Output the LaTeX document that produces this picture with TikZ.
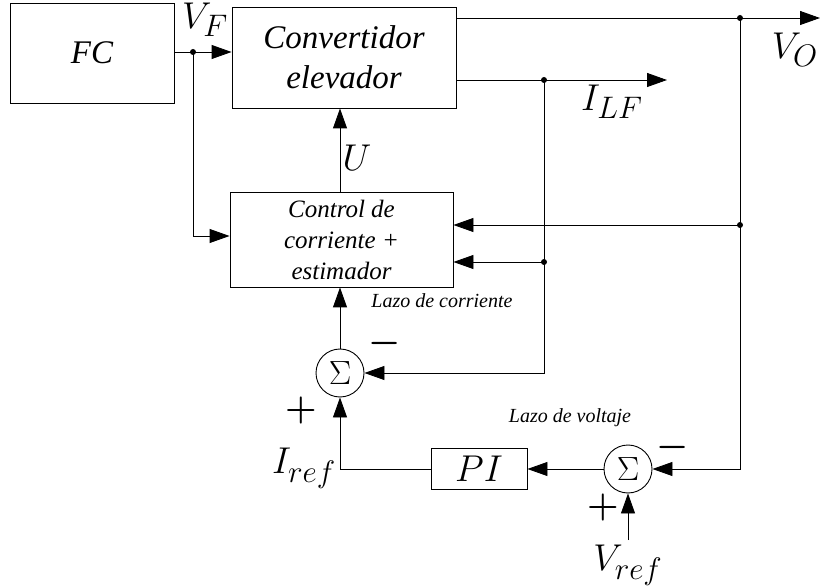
\documentclass[tikz,border=0pt]{standalone}
\usepackage{fontspec}
\setmainfont{Liberation Serif}
\usetikzlibrary{arrows.meta,positioning}

\begin{document}
\begin{tikzpicture}[
  x=1pt,y=-1pt,
  block/.style={draw,line width=0.9pt,inner sep=0pt,align=center,font=\fontsize{33}{40}\selectfont\itshape},
  ctrlblock/.style={block,font=\fontsize{25}{31}\selectfont\itshape},
  sumnode/.style={draw,circle,line width=0.9pt,minimum size=48pt,inner sep=0pt},
  sigma/.style={inner sep=0pt,scale=1.35,font=\fontsize{24.88}{30}\selectfont},
  dot/.style={circle,fill,inner sep=0pt,minimum size=6pt},
  wire/.style={line width=0.9pt},
  arrow/.style={wire,-{Triangle[length=20pt,width=14pt]}},
  signal/.style={inner sep=0pt,scale=1.5,font=\fontsize{24.88}{30}\selectfont},
  loopnote/.style={inner sep=0pt,font=\fontsize{20}{20}\selectfont\itshape},
  sign/.style={inner sep=0pt,scale=1.45,font=\fontsize{24.88}{30}\selectfont\boldmath}
]
\useasboundingbox (0,0) rectangle (820,588);
\node[block,minimum width=164pt,minimum height=100pt] (fc) at (92,53) {FC};
\node[block,minimum width=224pt,minimum height=101pt] (conv) at (344,57.5) {Convertidor\\elevador};
\node[ctrlblock,minimum width=223pt,minimum height=95pt] (ctrl) at (341.5,239.5) {Control de\\corriente +\\estimador};
\node[sumnode] (sum1) at (340,373) {};
\node[sumnode] (sum2) at (628,469) {};
\node[sigma] (sig1) at (sum1) {$\Sigma$};
\node[sigma] (sig2) at (sum2) {$\Sigma$};
\node[block,minimum width=96pt,minimum height=41pt] (pi) at (479,468.5) {};
\node[signal] (pil) at (pi) {$PI$};
\node[dot] (jF) at (193,52) {};
\node[dot] (jV) at (740,18) {};
\node[dot] (jI) at (544,80) {};
\node[dot] (jV2) at (740,225) {};
\node[dot] (jI2) at (544,262) {};
\coordinate (vo) at (820,18);
\coordinate (ilf) at (667,80);
\coordinate (vref) at (628,540);
\draw[wire] (fc.east |- jF) -- (jF.center);
\draw[arrow] (jF.center) -- (conv.west |- jF);
\draw[arrow] (jF.center) |- ([yshift=3.5pt]ctrl.west);
\draw[arrow] (conv.east |- vo) -- (vo);
\draw[arrow] (conv.east |- ilf) -- (ilf);
\draw[wire] (jV.center) -- (jV2.center);
\draw[arrow] (jV2.center) -- (ctrl.east |- jV2);
\draw[arrow] (jV2.center) |- (sum2.east);
\draw[wire] (jI.center) -- (jI2.center);
\draw[arrow] (jI2.center) -- (ctrl.east |- jI2);
\draw[arrow] (jI2.center) |- (sum1.east);
\draw[arrow] (sum1.north) -- (sum1.north |- ctrl.south);
\draw[arrow] (ctrl.north -| sum1) -- (conv.south -| sum1);
\draw[arrow] (sum2.west) -- (pi.east |- sum2);
\draw[arrow] (pi.west |- sum2) -| (sum1.south);
\draw[arrow] (vref) -- (sum2.south);
\node[signal] (vfl) at (205,20) {$V_F$};
\node[signal] (ul) at (357,158) {$U$};
\node[signal] (vol) at (795,50) {$V_O$};
\node[signal] (ilfl) at (612,102) {$I_{LF}$};
\node[signal] (irefl) at (304,468) {$I_{ref}$};
\node[signal] (vrefl) at (628,565) {$V_{ref}$};
\node[loopnote] (lazoi) at (442,301) {Lazo de corriente};
\node[loopnote] (lazov) at (570,418) {Lazo de voltaje};
\node[sign] (minus1) at (385,343) {$-$};
\node[sign] (plus1) at (301,410) {$+$};
\node[sign] (minus2) at (673,447) {$-$};
\node[sign] (plus2) at (603,507) {$+$};
\end{tikzpicture}
\end{document}
